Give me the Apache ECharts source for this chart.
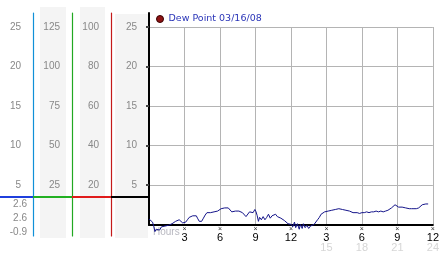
<!DOCTYPE html>
<html>
<head>
<meta charset="utf-8">
<script src="https://cdn.jsdelivr.net/npm/echarts@6/dist/echarts.min.js"></script>
<style>
html,body{margin:0;padding:0;background:#fff;}
#c{width:442px;height:253px;}
</style>
</head>
<body>
<div id="c"></div>
<script>
// ---- data ----
const seriesName = 'Dew Point 03/16/08';
const hours = [
  0.00,0.15,0.30,0.40,0.50,0.60,0.75,0.90,1.05,1.20,1.35,1.50,1.65,1.80,1.95,2.10,2.25,2.40,2.55,2.70,2.85,3.00,
  3.10,3.25,3.40,3.55,3.70,3.85,4.00,4.10,4.25,4.35,4.45,4.60,4.75,4.90,5.05,5.20,5.35,5.50,5.65,5.80,5.95,
  6.10,6.25,6.40,6.55,6.70,6.85,7.00,7.15,7.30,7.45,7.60,7.75,7.90,8.05,8.20,8.35,8.50,8.65,8.80,8.95,
  9.05,9.15,9.25,9.35,9.50,9.65,9.80,9.95,10.10,10.25,10.40,10.55,10.70,10.85,11.00,11.15,11.30,11.45,11.60,11.75,11.90,
  12.05,12.15,12.30,12.40,12.55,12.70,12.80,12.95,13.05,13.20,13.35,13.50,13.65,13.80,13.95,
  14.10,14.25,14.40,14.55,14.70,14.85,15.00,15.15,15.30,15.45,15.60,15.75,15.90,16.05,16.20,16.35,16.50,16.65,16.80,16.95,
  17.10,17.25,17.40,17.60,17.80,18.00,18.20,18.40,18.60,18.80,19.00,19.20,19.40,19.60,19.80,20.00,20.20,20.35,20.50,20.65,20.80,20.95,
  21.10,21.25,21.40,21.55,21.70,21.85,22.00,22.20,22.40,22.60,22.80,22.95,23.10,23.25,23.40,23.60
];
const dewPoint = [
  0.7,0.6,0.3,-0.2,-0.9,-0.6,-0.4,-0.7,-0.3,-0.5,-0.2,-0.4,-0.1,0.0,0.1,0.2,0.4,0.3,0.6,0.5,0.2,0.1,
  0.3,0.6,0.9,1.05,1.1,1.0,1.1,0.8,0.4,0.2,0.4,0.8,1.2,1.5,1.6,1.5,1.7,1.6,1.8,1.7,1.9,
  2.0,2.1,2.1,2.2,2.1,2.0,1.6,1.5,1.7,1.6,1.7,1.9,1.5,1.3,1.0,1.2,1.6,1.8,1.5,1.9,
  1.6,1.1,0.4,0.9,0.6,1.0,0.6,0.9,1.3,0.8,1.1,1.0,1.3,1.0,1.1,0.8,0.6,0.5,0.3,0.1,0.2,
  0.0,-0.3,0.3,-0.4,0.1,-0.6,0.0,-0.5,0.1,-0.4,-0.1,-0.5,-0.2,-0.3,0.0,
  0.2,0.6,0.9,1.3,1.5,1.6,1.6,1.7,1.6,1.8,1.7,1.9,1.8,2.0,1.8,1.9,1.7,1.8,1.6,1.7,
  1.6,1.5,1.5,1.5,1.4,1.5,1.5,1.6,1.5,1.6,1.6,1.7,1.6,1.7,1.6,1.7,1.8,1.9,2.1,2.2,2.5,2.3,
  2.2,2.3,2.2,2.2,2.1,2.0,2.0,2.0,2.0,2.0,2.1,2.3,2.5,2.6,2.6,2.6
];
const xTickLabels = ['3','6','9','12','3','6','9','12'];
const xSubLabels  = ['','','','','15','18','21','24'];
const axisNameX = 'Hours';

// ---- derived ----
const points = hours.map((h, i) => [h, dewPoint[i]]);
const lastVal = dewPoint[dewPoint.length - 1];
const maxVal = Math.max.apply(null, dewPoint);
const minVal = Math.min.apply(null, dewPoint);

const FONT = '"Liberation Sans", Arial, sans-serif';
const labelGray = '#888';
const hideZero = v => (v === 0 ? '' : String(v));

function labelAxis(offset, max, interval) {
  return {
    gridIndex: 0, type: 'value', position: 'left', offset: offset,
    min: 0, max: max, interval: interval,
    axisLine: { show: false, onZero: false }, axisTick: { show: false }, splitLine: { show: false },
    axisLabel: { margin: 12, color: labelGray, fontFamily: FONT, fontSize: 10, formatter: hideZero }
  };
}
function lineAxis(grid, offset, color, width) {
  return {
    gridIndex: grid, type: 'value', position: 'left', offset: offset, min: 0, max: 1,
    axisLine: { show: true, onZero: false, lineStyle: { color: color, width: width } },
    axisTick: { show: false }, axisLabel: { show: false }, splitLine: { show: false }
  };
}

const chart = echarts.init(document.getElementById('c'), null, { renderer: 'canvas' });
chart.setOption({
  animation: false,
  backgroundColor: '#fff',
  grid: [
    { left: 149, right: 2, top: 27, bottom: 28 },
    { left: 149, right: 2, top: 13, bottom: 17 },
    { left: 149, right: 2, top: 13, bottom: 28 }
  ],
  legend: {
    left: 156, top: 14, padding: 0,
    icon: 'circle', itemWidth: 7, itemHeight: 7,
    itemStyle: { color: '#8e1414', borderColor: '#3a0000', borderWidth: 1 },
    textStyle: { color: '#2a35b8', fontFamily: '"DejaVu Sans", Verdana, sans-serif', fontSize: 9.5 },
    data: [seriesName]
  },
  xAxis: [
    {
      gridIndex: 0, type: 'value', min: 0, max: 24, interval: 3,
      axisLine: { show: true, onZero: false, lineStyle: { color: '#000', width: 2 } },
      axisTick: { show: false },
      splitLine: { show: true, lineStyle: { color: '#b4b4b4', width: 1 } },
      axisLabel: {
        margin: 2, fontFamily: FONT,
        formatter: function (v) {
          if (v === 0) return '';
          const i = Math.round(v / 3) - 1;
          return '{m|×}\n{v|' + xTickLabels[i] + '}\n{s|' + (xSubLabels[i] || ' ') + '}';
        },
        rich: {
          m: { fontSize: 7, lineHeight: 6, color: '#333', fontFamily: FONT, align: 'center' },
          v: { fontSize: 11, lineHeight: 11, color: '#000', fontFamily: FONT, align: 'center' },
          s: { fontSize: 11, lineHeight: 8, color: '#d6d6d6', fontFamily: FONT, align: 'center' }
        }
      }
    },
    { gridIndex: 1, type: 'value', show: false, min: 0, max: 1, axisLine: { onZero: false } },
    { gridIndex: 2, type: 'value', show: false, min: 0, max: 1, axisLine: { onZero: false } }
  ],
  yAxis: [
    {
      gridIndex: 0, type: 'value', position: 'left', min: 0, max: 25, interval: 5,
      axisLine: { show: false, onZero: false },
      axisTick: { show: true, length: 3, customValues: [5, 10, 15, 20, 25], lineStyle: { color: '#444', width: 2 } },
      splitLine: { show: true, lineStyle: { color: '#b4b4b4', width: 1 } },
      axisLabel: { margin: 12, color: labelGray, fontFamily: FONT, fontSize: 10, formatter: hideZero }
    },
    labelAxis(38, 100, 20),
    labelAxis(77, 125, 25),
    labelAxis(116, 25, 5),
    lineAxis(1, 38, '#c41a1a', 1.2),
    lineAxis(1, 77, '#22a822', 1.2),
    lineAxis(1, 116, '#1090d8', 1.2),
    lineAxis(2, 0, '#000', 2)
  ],
  graphic: [
    { type: 'rect', z: -10, shape: { x: 40, y: 7, width: 26, height: 231 }, style: { fill: '#f4f4f4' } },
    { type: 'rect', z: -10, shape: { x: 80, y: 7, width: 25, height: 231 }, style: { fill: '#f4f4f4' } },
    { type: 'rect', z: -10, shape: { x: 115, y: 14, width: 33, height: 224 }, style: { fill: '#f4f4f4' } },
    { type: 'line', z: 5, shape: { x1: 0, y1: 197, x2: 33, y2: 197 }, style: { stroke: '#1f3fdd', lineWidth: 2 } },
    { type: 'line', z: 5, shape: { x1: 33, y1: 197, x2: 72, y2: 197 }, style: { stroke: '#22b022', lineWidth: 2 } },
    { type: 'line', z: 5, shape: { x1: 72, y1: 197, x2: 111, y2: 197 }, style: { stroke: '#e01b1b', lineWidth: 2 } },
    { type: 'line', z: 5, shape: { x1: 111, y1: 197, x2: 149, y2: 197 }, style: { stroke: '#000', lineWidth: 2 } },
    { type: 'text', z: 5, style: { x: 27, y: 204.5, text: lastVal.toFixed(1), fill: labelGray, font: '10px ' + FONT, textAlign: 'right', textVerticalAlign: 'middle' } },
    { type: 'text', z: 5, style: { x: 27, y: 218, text: maxVal.toFixed(1), fill: labelGray, font: '10px ' + FONT, textAlign: 'right', textVerticalAlign: 'middle' } },
    { type: 'text', z: 5, style: { x: 27, y: 232, text: minVal.toFixed(1), fill: labelGray, font: '10px ' + FONT, textAlign: 'right', textVerticalAlign: 'middle' } },
    { type: 'text', z: 0, style: { x: 153, y: 232, text: axisNameX, fill: '#b8b8c0', font: '10px ' + FONT, textAlign: 'left', textVerticalAlign: 'middle' } }
  ],
  series: [
    {
      name: seriesName, type: 'line', xAxisIndex: 0, yAxisIndex: 0,
      data: points, showSymbol: false, clip: false, z: 6,
      lineStyle: { color: '#14148a', width: 1 },
      itemStyle: { color: '#8e1414' }
    }
  ]
});
</script>
</body>
</html>
